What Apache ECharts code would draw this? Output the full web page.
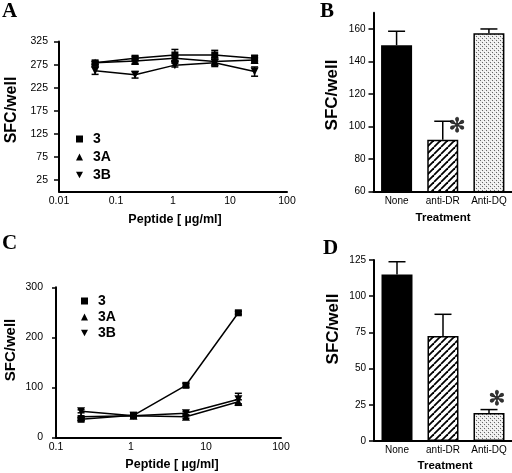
<!DOCTYPE html>
<html><head><meta charset="utf-8">
<script src="https://cdn.jsdelivr.net/npm/echarts@6/dist/echarts.min.js"></script>
<style>html,body{margin:0;padding:0;background:#fff}#c{width:512px;height:473px}</style>
</head><body><div id="c"></div>
<script>
// ---- Data ----
const seriesNames = ['3', '3A', '3B'];
// Panel A
const concA = [0.043, 0.216, 1.08, 5.4, 27];
const a3 = [279, 289, 296, 296, 289];
const a3Err = [3, 4, 12, 10, 6];
const a3A = [279, 283, 289, 282, 285];
const a3AErr = [3, 5, 5, 8, 5];
const a3B = [262, 253, 274, 279, 260];
const a3BErr = [8, 7, 4, 8, 10];
const ticksA = [25, 75, 125, 175, 225, 275, 325];
// Panel C
const concC = [0.216, 1.08, 5.4, 27];
const c3 = [36, 44, 104, 249];
const c3Err = [3, 3, 4, 3];
const c3A = [41, 43, 41, 71];
const c3AErr = [2, 3, 3, 4];
const c3B = [52, 43, 48, 76];
const c3BErr = [3, 2, 3, 12];
// Panels B and D
const treatments = ['None', 'anti-DR', 'Anti-DQ'];
const bVals = [150, 92, 157.4];
const bErr = [8.6, 11.3, 2.6];
const bStar = ['anti-DR', 100];
const ticksB = [60, 80, 100, 120, 140, 160];
const dVals = [115, 72.5, 19.4];
const dErr = [8.8, 15, 2.3];
const dStar = ['Anti-DQ', 28.4];

const FF = '"Liberation Sans", Arial, sans-serif';

// ---- patterns ----
function hatch() {
  const s = 7, c = document.createElement('canvas');
  c.width = s; c.height = s;
  const g = c.getContext('2d');
  g.fillStyle = '#fff'; g.fillRect(0, 0, s, s);
  g.strokeStyle = '#000'; g.lineWidth = 1.8;
  for (const o of [-s, 0, s]) {
    g.beginPath(); g.moveTo(o, s); g.lineTo(o + s, 0); g.stroke();
  }
  return c;
}
function dots() {
  const c = document.createElement('canvas');
  c.width = 4; c.height = 4;
  const g = c.getContext('2d');
  g.fillStyle = '#ececec'; g.fillRect(0, 0, 4, 4);
  g.fillStyle = '#666';
  g.fillRect(0, 0, 1, 1); g.fillRect(2, 2, 1, 1);
  g.fillStyle = '#fff';
  g.fillRect(1, 3, 1, 1); g.fillRect(3, 1, 1, 1);
  return c;
}
const barFills = ['#000', {image: hatch(), repeat: 'repeat'}, {image: dots(), repeat: 'repeat'}];

// ---- helpers ----
function errRender(capW, both) {
  return function (params, api) {
    const x = api.value(0), lo = api.value(1), hi = api.value(2);
    const p0 = api.coord([x, lo]), p1 = api.coord([x, hi]);
    const st = {stroke: '#000', lineWidth: 1.5};
    const ch = [
      {type: 'line', shape: {x1: p0[0], y1: p0[1], x2: p1[0], y2: p1[1]}, style: st},
      {type: 'line', shape: {x1: p1[0] - capW / 2, y1: p1[1], x2: p1[0] + capW / 2, y2: p1[1]}, style: st}
    ];
    if (both) ch.push({type: 'line', shape: {x1: p0[0] - capW / 2, y1: p0[1], x2: p0[0] + capW / 2, y2: p0[1]}, style: st});
    return {type: 'group', children: ch};
  };
}
function errSeries(idx, xs, ys, es, capW, both) {
  const data = xs.map((x, i) => both ? [x, ys[i] - es[i], ys[i] + es[i]] : [i, ys[i], ys[i] + es[i]]);
  return {type: 'custom', xAxisIndex: idx, yAxisIndex: idx, renderItem: errRender(capW, both),
    data: data, z: 1, silent: true, clip: false};
}
const downTri = 'path://M0,0L10,0L5,9Z';
const symbols = ['rect', 'triangle', downTri];
const symSizes = [7, 8, 8];
function lineSeries(idx, name, si, xs, ys) {
  return {type: 'line', name: name, xAxisIndex: idx, yAxisIndex: idx,
    data: xs.map((x, i) => [x, ys[i]]), symbol: symbols[si], symbolSize: symSizes[si],
    showSymbol: true, color: '#000', itemStyle: {color: '#000'},
    lineStyle: {color: '#000', width: 1.5}, z: 3, silent: true};
}
const tickLbl = (fs) => ({color: '#000', fontSize: fs, fontFamily: FF});
const axLine = {show: true, onZero: false, lineStyle: {color: '#000', width: 2}};

const legendBase = (left, top, gap) => ({
  orient: 'vertical', left: left, top: top, itemWidth: 7, itemHeight: 7, itemGap: gap,
  selectedMode: false,
  textStyle: {fontWeight: 'bold', fontSize: 14, fontFamily: FF, color: '#000', padding: [0, 0, 0, 5]},
  data: seriesNames.map((n, i) => ({name: n, icon: symbols[i]}))
});

function letter(t, x, y) {
  return {type: 'text', left: x, top: y, style: {text: t, font: 'bold 21px "Liberation Serif", "Times New Roman", serif', fill: '#000'}};
}
function ytitle(t, x, y, fs) {
  return {type: 'text', x: x, y: y, rotation: Math.PI / 2,
    style: {text: t, x: 0, y: 0, align: 'center', verticalAlign: 'middle', font: 'bold ' + fs + 'px ' + FF, fill: '#000'}};
}
function xtitle(t, x, y, fs) {
  return {type: 'text', x: x, y: y,
    style: {text: t, x: 0, y: 0, align: 'center', verticalAlign: 'middle', font: 'bold ' + fs + 'px ' + FF, fill: '#000'}};
}
const catLabel = (m) => Object.assign(tickLbl(10), {margin: m, interval: 0, hideOverlap: false});
const starLabel = (off) => ({show: true, position: 'inside', offset: off, formatter: '\u273B',
  fontSize: 20, fontWeight: 'bold', color: '#000', fontFamily: '"DejaVu Sans"',
  textBorderColor: '#000', textBorderWidth: 0.6});

const chart = echarts.init(document.getElementById('c'), null, {renderer: 'canvas'});
const option = {
  animation: false,
  backgroundColor: '#fff',
  grid: [
    {left: 59, top: 41.6, width: 228, height: 150},
    {left: 373.5, top: 12.7, width: 140, height: 179},
    {left: 56, top: 287.3, width: 225, height: 150},
    {left: 374, top: 260, width: 140, height: 181}
  ],
  xAxis: [
    {gridIndex: 0, type: 'log', logBase: 10, min: 0.01, max: 100, axisLine: axLine,
      axisTick: {show: false}, splitLine: {show: false}, minorTick: {show: false},
      axisLabel: Object.assign(tickLbl(10.5), {margin: 4})},
    {gridIndex: 1, type: 'category', data: treatments, axisLine: axLine, axisTick: {show: false},
      axisLabel: catLabel(5)},
    {gridIndex: 2, type: 'log', logBase: 10, min: 0.1, max: 100, axisLine: axLine,
      axisTick: {show: false}, splitLine: {show: false},
      axisLabel: Object.assign(tickLbl(10.5), {margin: 4})},
    {gridIndex: 3, type: 'category', data: treatments, axisLine: axLine, axisTick: {show: false},
      axisLabel: catLabel(4)}
  ],
  yAxis: [
    {gridIndex: 0, type: 'value', min: 0, max: 325, axisLine: axLine, splitLine: {show: false},
      axisTick: {show: true, length: 5, customValues: ticksA, lineStyle: {color: '#000', width: 1.5}},
      axisLabel: Object.assign(tickLbl(10.5), {customValues: ticksA, margin: 11})},
    {gridIndex: 1, type: 'value', min: 60, max: 170, axisLine: axLine, splitLine: {show: false},
      axisTick: {show: true, length: 5, customValues: ticksB, lineStyle: {color: '#000', width: 1.5}},
      axisLabel: Object.assign(tickLbl(10), {customValues: ticksB, margin: 8})},
    {gridIndex: 2, type: 'value', min: 0, max: 300, interval: 100, axisLine: axLine, splitLine: {show: false},
      axisTick: {show: true, length: 4, lineStyle: {color: '#000', width: 1.5}},
      axisLabel: Object.assign(tickLbl(10.5), {margin: 13})},
    {gridIndex: 3, type: 'value', min: 0, max: 125, interval: 25, axisLine: axLine, splitLine: {show: false},
      axisTick: {show: true, length: 5, lineStyle: {color: '#000', width: 1.5}},
      axisLabel: Object.assign(tickLbl(10), {margin: 8})}
  ],
  legend: [legendBase(71, 127, 4), legendBase(76, 289, 2)],
  series: [
    errSeries(0, concA, a3, a3Err, 7, true),
    errSeries(0, concA, a3A, a3AErr, 7, true),
    errSeries(0, concA, a3B, a3BErr, 7, true),
    lineSeries(0, '3', 0, concA, a3),
    lineSeries(0, '3A', 1, concA, a3A),
    lineSeries(0, '3B', 2, concA, a3B),
    errSeries(2, concC, c3, c3Err, 7, true),
    errSeries(2, concC, c3A, c3AErr, 7, true),
    errSeries(2, concC, c3B, c3BErr, 7, true),
    lineSeries(2, '3', 0, concC, c3),
    lineSeries(2, '3A', 1, concC, c3A),
    lineSeries(2, '3B', 2, concC, c3B),
    {type: 'bar', xAxisIndex: 1, yAxisIndex: 1, barWidth: 31, silent: true, z: 2,
      data: bVals.map((v, i) => ({value: v, itemStyle: {color: barFills[i], borderColor: '#000', borderWidth: 1.5}}))},
    errSeries(1, treatments, bVals, bErr, 17, false),
    {type: 'bar', xAxisIndex: 3, yAxisIndex: 3, barWidth: 31, silent: true, z: 2,
      data: dVals.map((v, i) => ({value: v, itemStyle: {color: barFills[i], borderColor: '#000', borderWidth: 1.5}}))},
    errSeries(3, treatments, dVals, dErr, 17, false),
    {type: 'scatter', xAxisIndex: 1, yAxisIndex: 1, symbolSize: 0, silent: true, data: [bStar],
      label: starLabel([14.5, 0])},
    {type: 'scatter', xAxisIndex: 3, yAxisIndex: 3, symbolSize: 0, silent: true, data: [dStar],
      label: starLabel([8, 0])}
  ],
  graphic: [
    letter('A', 2, 1), letter('B', 320, 1), letter('C', 2, 233), letter('D', 323, 238),
    ytitle('SFC/well', 12, 110, 16), ytitle('SFC/well', 332, 95, 17),
    ytitle('SFC/well', 11, 350, 15), ytitle('SFC/well', 333, 329, 17),
    xtitle('Peptide [ \u00B5g/ml]', 175, 220, 12.5), xtitle('Peptide [ \u00B5g/ml]', 172, 465, 12.5),
    xtitle('Treatment', 443, 218, 11.5), xtitle('Treatment', 445, 466, 11.5)
  ]
};
chart.setOption(option);
</script>
</body></html>
